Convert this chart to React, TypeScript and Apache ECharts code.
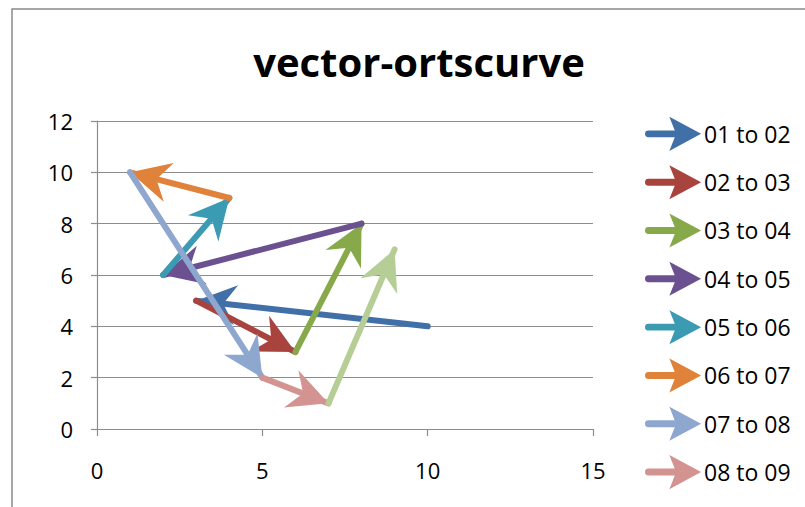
import React, { useEffect, useRef } from "react";
import * as echarts from "echarts";

const pointX = [10, 3, 6, 8, 2, 4, 1, 5, 7, 9];
const pointY = [4, 5, 3, 8, 6, 9, 10, 2, 1, 7];
const segmentNames = [
  "01 to 02",
  "02 to 03",
  "03 to 04",
  "04 to 05",
  "05 to 06",
  "06 to 07",
  "07 to 08",
  "08 to 09",
  "09 to 10",
];
const segmentColors = [
  "#4170A8",
  "#A9433E",
  "#87A94A",
  "#6B5190",
  "#3A9BB2",
  "#E0823A",
  "#8EA7CE",
  "#D39391",
  "#B6CE95",
];
const legendShown = segmentNames.slice(0, 8);
const xTicks = { min: 0, max: 15, interval: 5 };
const yTicks = { min: 0, max: 12, interval: 2 };

// arrowhead pointing "up", tip at the symbol's centre (extra moveTos pad the square box)
const ARROW_HEAD = "path://M0 0 M200 0 M100 100 L150 200 L100 168 L50 200 Z";
const LEGEND_ICON =
  "path://M4 25 L62 25 L62 35 L4 35 A5 5 0 0 1 4 25 Z M50 0 L106 30 L50 60 L62 30 Z";

export default function App() {
  const ref = useRef<HTMLDivElement>(null);
  useEffect(() => {
    document.body.style.margin = "0";
    if (!ref.current) return;
    const chart = echarts.init(ref.current, null, { renderer: "svg" });
    const font = "'Open Sans', sans-serif";
    const series = segmentNames.map((name, i) => ({
      type: "lines",
      name,
      coordinateSystem: "cartesian2d",
      polyline: false,
      symbol: ["none", ARROW_HEAD],
      symbolSize: 80,
      lineStyle: { color: segmentColors[i], width: 6, cap: "round", opacity: 1 },
      itemStyle: { color: segmentColors[i] },
      data: [
        {
          coords: [
            [pointX[i], pointY[i]],
            [pointX[i + 1], pointY[i + 1]],
          ],
        },
      ],
      z: 2 + i,
    }));
    chart.setOption({
      animation: false,
      backgroundColor: "#ffffff",
      title: {
        text: "vector-ortscurve",
        left: 414,
        textAlign: "center",
        top: 36,
        textStyle: { fontFamily: font, fontWeight: "bold", fontSize: 40, color: "#000" },
      },
      graphic: [
        {
          type: "rect",
          shape: { x: 12, y: 9, width: 1200, height: 1200 },
          style: { fill: "none", stroke: "#8a8a8a", lineWidth: 1.5 },
          silent: true,
        },
      ],
      legend: {
        orient: "vertical",
        left: 645,
        top: 118,
        itemWidth: 53,
        itemHeight: 30,
        itemGap: 16.6,
        padding: 0,
        data: legendShown.map((n, i) => ({
          name: n,
          icon: LEGEND_ICON,
          itemStyle: { color: segmentColors[i] },
        })),
        textStyle: { fontFamily: font, fontSize: 23, color: "#000" },
      },
      grid: { left: 97, right: 212, top: 121, bottom: 78, containLabel: false },
      xAxis: {
        type: "value",
        min: xTicks.min,
        max: xTicks.max,
        interval: xTicks.interval,
        axisLine: { show: true, lineStyle: { color: "#8c8c8c", width: 1.2 } },
        axisTick: { show: true, length: 7, lineStyle: { color: "#8c8c8c", width: 1.2 } },
        splitLine: { show: false },
        axisLabel: { margin: 30, fontFamily: font, fontSize: 22, color: "#000" },
      },
      yAxis: {
        type: "value",
        min: yTicks.min,
        max: yTicks.max,
        interval: yTicks.interval,
        axisLine: { show: true, lineStyle: { color: "#8c8c8c", width: 1.2 } },
        axisTick: { show: true, length: 6, lineStyle: { color: "#8c8c8c", width: 1.2 } },
        splitLine: { show: true, lineStyle: { color: "#8c8c8c", width: 1.2 } },
        axisLabel: { margin: 24, fontFamily: font, fontSize: 22, color: "#000" },
      },
      series,
    });
    return () => chart.dispose();
  }, []);
  return <div ref={ref} style={{ width: 805, height: 507 }} />;
}
